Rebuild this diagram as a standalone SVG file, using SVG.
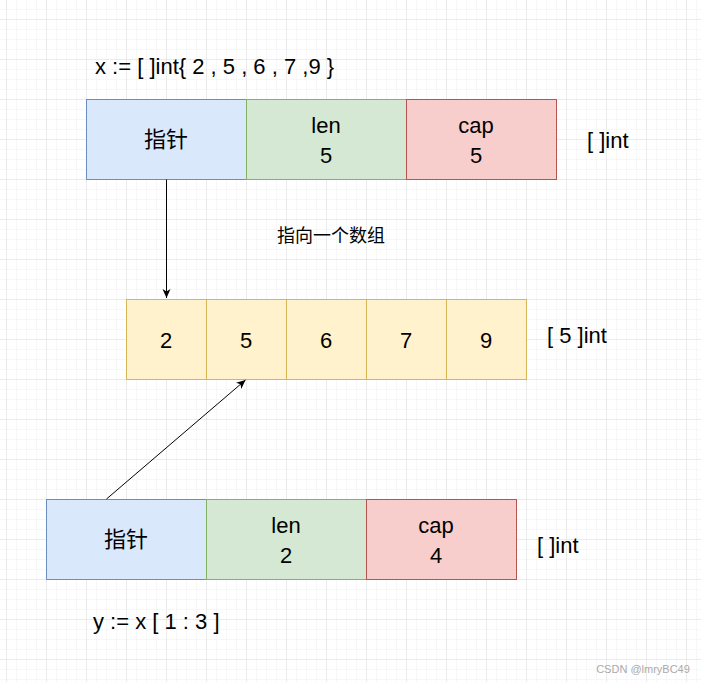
<svg xmlns="http://www.w3.org/2000/svg" width="701" height="682" viewBox="0 0 701 682">
<style>
text{font-family:"Liberation Sans","Noto Sans CJK SC",sans-serif;font-size:22px;fill:#000;text-anchor:middle}
.l{text-anchor:start}
.p{fill:#dae8fc;stroke:#6c8ebf}
.g{fill:#d5e8d4;stroke:#82b366}
.r{fill:#f8cecc;stroke:#b85450}
.y{fill:#fff2cc;stroke:#d6b656}
.c{stroke:#000;stroke-width:1;fill:none}
</style>
<defs>
<pattern id="mn" width="10" height="10" patternUnits="userSpaceOnUse" x="6" y="9"><path d="M0 0H10M0 0V10" stroke="#f0f0f0" fill="none"/></pattern>
<pattern id="mj" width="40" height="40" patternUnits="userSpaceOnUse" x="6" y="19"><path d="M0 0H40M0 0V40" stroke="#e0e0e0" fill="none"/></pattern>
<marker id="a" markerWidth="10" markerHeight="10" refX="9" refY="5" orient="auto" markerUnits="userSpaceOnUse"><path d="M0 1L9 5L0 9L2.5 5Z" fill="#000"/></marker>
</defs>
<rect width="701" height="682" fill="#fff"/>
<rect width="701" height="682" fill="url(#mn)"/>
<rect width="701" height="682" fill="url(#mj)"/>
<text class="l" x="95" y="74">x := [ ]int{ 2 , 5 , 6 , 7 ,9 }</text>
<g id="x-ptr"><rect class="p" x="86.5" y="99.5" width="160" height="80"/><text x="166" y="147">指针</text></g>
<g id="x-len"><rect class="g" x="246.5" y="99.5" width="160" height="80"/><text x="326" y="133">len</text><text x="326" y="163">5</text></g>
<g id="x-cap"><rect class="r" x="406.5" y="99.5" width="150" height="80"/><text x="476" y="133">cap</text><text x="476" y="163">5</text></g>
<text class="l" x="587" y="148">[ ]int</text>
<text x="331" y="242" style="font-size:18px">指向一个数组</text>
<g id="arr">
<rect class="y" x="126.5" y="299.5" width="80" height="80"/><text x="166" y="348">2</text>
<rect class="y" x="206.5" y="299.5" width="80" height="80"/><text x="246" y="348">5</text>
<rect class="y" x="286.5" y="299.5" width="80" height="80"/><text x="326" y="348">6</text>
<rect class="y" x="366.5" y="299.5" width="80" height="80"/><text x="406" y="348">7</text>
<rect class="y" x="446.5" y="299.5" width="80" height="80"/><text x="486" y="348">9</text>
</g>
<text class="l" x="547" y="343">[ 5 ]int</text>
<g id="y-ptr"><rect class="p" x="46.5" y="499.5" width="160" height="80"/><text x="126" y="547">指针</text></g>
<g id="y-len"><rect class="g" x="206.5" y="499.5" width="160" height="80"/><text x="286" y="533">len</text><text x="286" y="563">2</text></g>
<g id="y-cap"><rect class="r" x="366.5" y="499.5" width="150" height="80"/><text x="436" y="533">cap</text><text x="436" y="563">4</text></g>
<text class="l" x="537" y="553">[ ]int</text>
<text class="l" x="93" y="629">y := x [ 1 : 3 ]</text>
<g id="connectors">
<path class="c" d="M166.5 179.5V298" marker-end="url(#a)"/>
<path class="c" d="M106.5 499L245.5 380" marker-end="url(#a)"/>
</g>
<text x="643" y="673" style="font-size:11px;fill:#aaa">CSDN @lmryBC49</text>
</svg>
